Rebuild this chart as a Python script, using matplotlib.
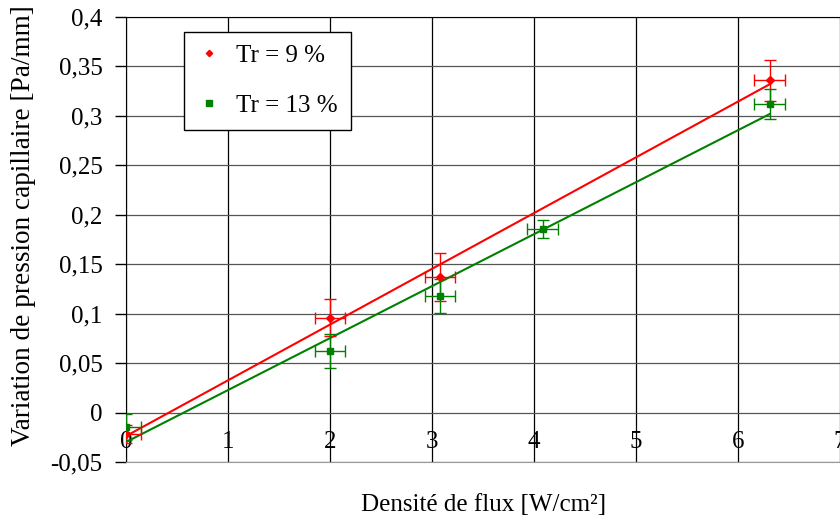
import numpy as np
import matplotlib.pyplot as plt

plt.rcParams['font.family'] = ['Liberation Serif', 'DejaVu Serif']

# Tr = 9 %
x_9 = [0.0, 2.0, 3.08, 6.31]
y_9 = [-0.022, 0.096, 0.137, 0.336]
yerr_9 = [0.009, 0.019, 0.024, 0.021]
xerr_9 = [0.15, 0.15, 0.15, 0.15]

# Tr = 13 %
x_13 = [0.0, 2.0, 3.08, 4.085, 6.31]
y_13 = [-0.0143, 0.0625, 0.118, 0.186, 0.312]
yerr_13 = [0.013, 0.017, 0.017, 0.009, 0.015]
xerr_13 = [0.15, 0.15, 0.15, 0.15, 0.15]

y_ticks = [-0.05, 0, 0.05, 0.1, 0.15, 0.2, 0.25, 0.3, 0.35, 0.4]
y_labels = ["-0,05", "0", "0,05", "0,1", "0,15", "0,2", "0,25", "0,3", "0,35", "0,4"]
x_ticks = [0, 1, 2, 3, 4, 5, 6, 7]

fig = plt.figure(figsize=(8.4, 5.2), dpi=100)
ax = fig.add_axes([126/840, 58/520, 714/840, 445/520])

# droites de tendance (moindres carres)
for xs, ys, col in [(x_9, y_9, "#ff0000"), (x_13, y_13, "#008000")]:
    a, b = np.polyfit(xs, ys, 1)
    xl = np.array([0, max(xs)])
    ax.plot(xl, a*xl + b, color=col, lw=1.5, zorder=3)

ax.errorbar(x_9, y_9, yerr=yerr_9, xerr=xerr_9, fmt='D', color="#ff0000",
            ms=4, elinewidth=1, capsize=4, capthick=1, zorder=4, label="Tr = 9 %")
ax.errorbar(x_13, y_13, yerr=yerr_13, xerr=xerr_13, fmt='s', color="#008000",
            ms=5, elinewidth=1, capsize=4, capthick=1, zorder=4, label="Tr = 13 %")

ax.set_xlim(0, 7)
ax.set_ylim(-0.05, 0.4)
ax.set_yticks(y_ticks)
ax.set_yticklabels(y_labels)
ax.set_xticks(x_ticks)
ax.tick_params(axis='y', labelsize=18, length=8, width=1, direction='out', pad=9)
ax.tick_params(axis='x', labelsize=18, length=0, pad=-22)

ax.xaxis.grid(True, color='black', lw=0.9)
ax.yaxis.grid(True, color='#555555', lw=0.9)
ax.set_axisbelow(True)
ax.spines['right'].set_visible(False)
ax.spines['bottom'].set_color('#999999')
ax.spines['top'].set_color('black')
ax.spines['left'].set_color('black')

h, l = ax.get_legend_handles_labels()
h = [hh[0] for hh in h]
leg = ax.legend(h, l, loc='upper left', bbox_to_anchor=((184-126)/714, (462-32)/445),
                borderaxespad=0, fontsize=18, frameon=True, fancybox=False,
                edgecolor='black', framealpha=1, labelspacing=1.1,
                handlelength=1.0, handletextpad=0.6, borderpad=0.5, markerscale=0.8)
leg.get_frame().set_linewidth(1)

fig.text(24/840, (520-446)/520, "Variation de pression capillaire [Pa/mm]",
         rotation=90, ha='center', va='bottom', fontsize=19.6)
fig.text(484/840, (520-516)/520, "Densité de flux [W/cm²]", ha='center', va='bottom', fontsize=18)

fig.savefig("out.png", dpi=100)
